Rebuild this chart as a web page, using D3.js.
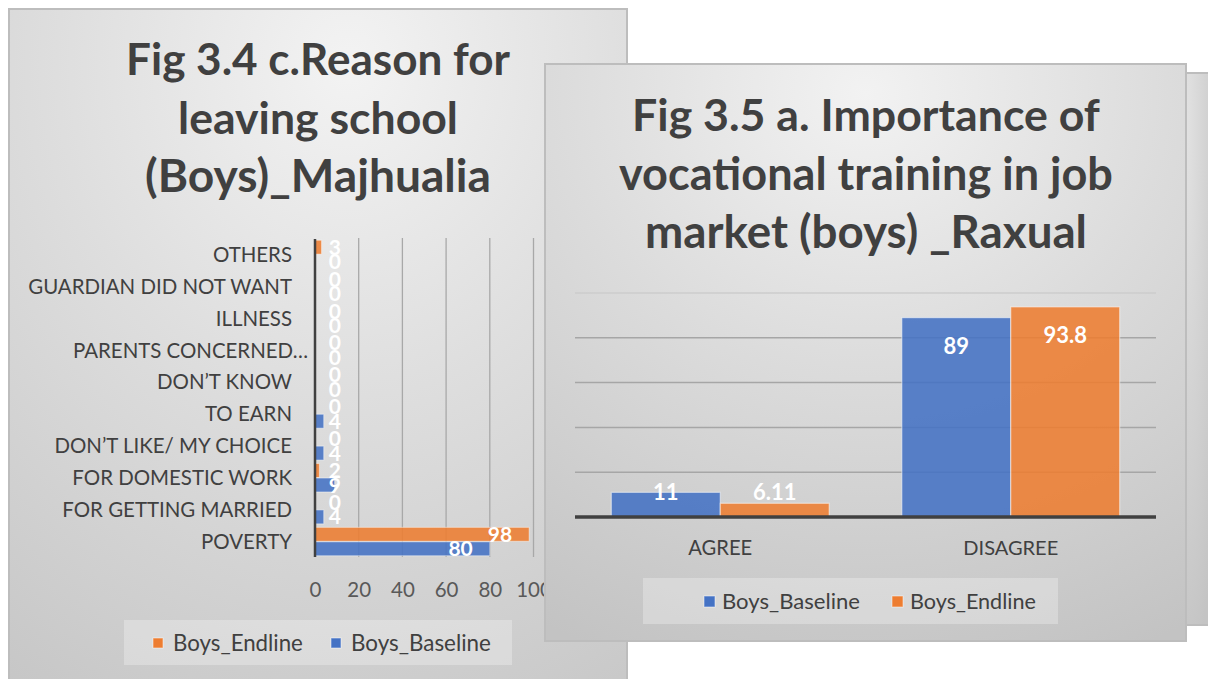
<!DOCTYPE html>
<html><head><meta charset="utf-8">
<script src="https://cdn.jsdelivr.net/npm/d3@7"></script>
<style>
html,body{margin:0;padding:0;background:#fff;}
svg{display:block;font-family:Lato,"Open Sans",sans-serif;}
</style></head>
<body>
<script>
// ---------- Data ----------
const leftTitle = ["Fig 3.4 c.Reason for", "leaving school", "(Boys)_Majhualia"];
const reasons = ["OTHERS", "GUARDIAN DID NOT WANT", "ILLNESS", "PARENTS CONCERNED…", "DON’T KNOW",
  "TO EARN", "DON’T LIKE/ MY CHOICE", "FOR DOMESTIC WORK", "FOR GETTING MARRIED", "POVERTY"];
const reasonEndline  = [3, 0, 0, 0, 0, 0, 0, 2, 0, 98];
const reasonBaseline = [0, 0, 0, 0, 0, 4, 4, 9, 4, 80];
const leftTicks = [0, 20, 40, 60, 80, 100];
const leftSeries = ["Boys_Endline", "Boys_Baseline"];

const rightTitle = ["Fig 3.5 a. Importance of", "vocational training in job", "market (boys) _Raxual"];
const answers = ["AGREE", "DISAGREE"];
const vocBaseline = [11, 89];
const vocEndline  = [6.11, 93.8];
const vocBaselineLabels = ["11", "89"];
const vocEndlineLabels  = ["6.11", "93.8"];
const rightGrid = [20, 40, 60, 80, 100];
const rightSeries = ["Boys_Baseline", "Boys_Endline"];

// ---------- Styles ----------
const BLUE = "#4472C4", ORANGE = "#ED7D31", TXT = "#404040";
const colorOf = {Boys_Baseline: BLUE, Boys_Endline: ORANGE};

const W = 1208, H = 679;
const svg = d3.select("body").append("svg").attr("width", W).attr("height", H);
const defs = svg.append("defs");

function grad(id, stops, cx, cy, r) {
  const g = defs.append("radialGradient").attr("id", id)
    .attr("gradientUnits", "objectBoundingBox")
    .attr("cx", cx).attr("cy", cy).attr("r", r);
  stops.forEach(s => g.append("stop").attr("offset", s[0]).attr("stop-color", s[1]));
}
grad("gLeft", [[0, "#f3f3f3"], [0.45, "#dedede"], [1, "#c6c6c6"]], 0.55, 0.08, 1.05);
grad("gRight", [[0, "#f2f2f2"], [0.45, "#dcdcdc"], [1, "#c3c3c3"]], 0.5, 0.05, 1.05);
grad("gThird", [[0, "#e2e2e2"], [1, "#c4c4c4"]], 0.0, 0.1, 1.0);

function fitText(sel, targetW) {
  const node = sel.node();
  const base = parseFloat(sel.attr("font-size"));
  const w = node.getComputedTextLength();
  sel.attr("font-size", base * targetW / w);
}

// ================= LEFT PANEL =================
const L = svg.append("g");
L.append("rect").attr("x", 9).attr("y", 9).attr("width", 618).attr("height", 700)
  .attr("fill", "url(#gLeft)").attr("stroke", "#bdbdbd").attr("stroke-width", 2);

const ltW = [384, 280, 346];
leftTitle.forEach((t, i) => {
  const tx = L.append("text").attr("x", 318).attr("y", 75 + i * 58.5)
    .attr("text-anchor", "middle").attr("font-size", 40).attr("font-weight", 700)
    .attr("fill", TXT).text(t);
  fitText(tx, ltW[i]);
});

const x0 = d3.scaleLinear().domain([0, 100]).range([315, 533.5]);
const yB = d3.scaleBand().domain(reasons).range([238.5, 557.5]).paddingInner(0).paddingOuter(0);
const ySub = d3.scaleBand().domain(leftSeries).range([0, yB.bandwidth()]).paddingOuter(0.12).paddingInner(0.04);

// gridlines
L.append("g").selectAll("line").data(leftTicks.slice(1)).join("line")
  .attr("x1", d => x0(d)).attr("x2", d => x0(d)).attr("y1", 238).attr("y2", 557)
  .attr("stroke", "#a8a8a8").attr("stroke-width", 1.3);

// tick labels via axis
const axL = L.append("g").attr("transform", "translate(0,582)")
  .call(d3.axisBottom(x0).tickValues(leftTicks).tickSize(0).tickPadding(0));
axL.select(".domain").remove();
axL.selectAll("text").attr("font-size", 20.5).attr("fill", "#595959")
  .attr("font-family", "Lato,'Open Sans',sans-serif").attr("dy", "0.71em");

// category labels
const catG = L.append("g");
reasons.forEach(c => {
  catG.append("text").attr("x", c === "PARENTS CONCERNED…" ? 308 : 292)
    .attr("y", yB(c) + yB.bandwidth() / 2).attr("dy", "0.36em")
    .attr("text-anchor", "end").attr("font-size", 18.5).attr("fill", TXT).text(c);
});
{
  const t = catG.selectAll("text").filter(function () { return this.textContent === "GUARDIAN DID NOT WANT"; });
  const w = t.node().getComputedTextLength();
  const fs = 18.5 * 264 / w;
  catG.selectAll("text").attr("font-size", fs);
}

const leftRows = reasons.map((c, i) => ({c, vals: [
  {s: "Boys_Endline", v: reasonEndline[i]}, {s: "Boys_Baseline", v: reasonBaseline[i]}]}));

const rowG = L.append("g").selectAll("g").data(leftRows).join("g")
  .attr("transform", d => `translate(0,${yB(d.c)})`);
rowG.selectAll("rect").data(d => d.vals).join("rect")
  .attr("x", x0(0)).attr("y", d => ySub(d.s)).attr("height", ySub.bandwidth())
  .attr("width", d => x0(d.v) - x0(0))
  .attr("fill", d => colorOf[d.s]).attr("fill-opacity", 0.88)
  .attr("stroke", "#ffffff").attr("stroke-opacity", 0.45).attr("stroke-width", d => d.v > 0 ? 1 : 0);
rowG.selectAll("text").data(d => d.vals).join("text")
  .attr("x", d => Math.max(x0(d.v) - 17, x0(0) + 26))
  .attr("y", d => ySub(d.s) + ySub.bandwidth() / 2).attr("dy", "0.36em")
  .attr("text-anchor", "end").attr("font-size", 21).attr("font-weight", 700)
  .attr("fill", "#ffffff").text(d => d.v);

// y axis line
L.append("line").attr("x1", 315).attr("x2", 315).attr("y1", 239).attr("y2", 557)
  .attr("stroke", "#404040").attr("stroke-width", 2.5);

// legend
const lgL = L.append("g");
lgL.append("rect").attr("x", 124).attr("y", 620).attr("width", 388).attr("height", 45)
  .attr("fill", "#ffffff").attr("fill-opacity", 0.28);
const lgLpos = [{s: "Boys_Endline", x: 153}, {s: "Boys_Baseline", x: 331}];
lgLpos.forEach(p => {
  lgL.append("rect").attr("x", p.x).attr("y", 638).attr("width", 10).attr("height", 10)
    .attr("fill", colorOf[p.s]).attr("stroke", "#fff").attr("stroke-opacity", 0.5);
  const t = lgL.append("text").attr("x", p.x + 20).attr("y", 643).attr("dy", "0.36em")
    .attr("font-size", 19).attr("fill", TXT).text(p.s);
  fitText(t, p.s === "Boys_Endline" ? 130 : 140);
});

// ================= THIRD (background) PANEL =================
svg.append("rect").attr("x", 1186).attr("y", 73).attr("width", 40).attr("height", 552)
  .attr("fill", "url(#gThird)").attr("stroke", "#bdbdbd").attr("stroke-width", 2);

// ================= RIGHT PANEL =================
const R = svg.append("g");
R.append("rect").attr("x", 545).attr("y", 64).attr("width", 641).attr("height", 577)
  .attr("fill", "url(#gRight)").attr("stroke", "#bdbdbd").attr("stroke-width", 2);

const rtW = [468, 494, 442];
rightTitle.forEach((t, i) => {
  const tx = R.append("text").attr("x", 866).attr("y", 131 + i * 58.5)
    .attr("text-anchor", "middle").attr("font-size", 40).attr("font-weight", 700)
    .attr("fill", TXT).text(t);
  fitText(tx, rtW[i]);
});

const xR = d3.scaleBand().domain(answers).range([575, 1156]).paddingInner(0.25).paddingOuter(0.125);
const xSub = d3.scaleBand().domain(rightSeries).range([0, xR.bandwidth()]).padding(0);
const yR = d3.scaleLinear().domain([0, 100]).range([517, 293]);

R.append("g").selectAll("line").data(rightGrid).join("line")
  .attr("x1", 575).attr("x2", 1156).attr("y1", d => yR(d)).attr("y2", d => yR(d))
  .attr("stroke", d => d === 100 ? "#cccccc" : "#a6a6a6").attr("stroke-width", 1.5);

const rightRows = answers.map((a, i) => ({a, vals: [
  {s: "Boys_Baseline", v: vocBaseline[i], lab: vocBaselineLabels[i]},
  {s: "Boys_Endline", v: vocEndline[i], lab: vocEndlineLabels[i]}]}));

const colG = R.append("g").selectAll("g").data(rightRows).join("g")
  .attr("transform", d => `translate(${xR(d.a)},0)`);
colG.selectAll("rect").data(d => d.vals).join("rect")
  .attr("x", d => xSub(d.s)).attr("width", xSub.bandwidth())
  .attr("y", d => yR(d.v)).attr("height", d => yR(0) - yR(d.v))
  .attr("fill", d => colorOf[d.s]).attr("fill-opacity", 0.88)
  .attr("stroke", "#ffffff").attr("stroke-opacity", 0.5).attr("stroke-width", 1.2);
colG.selectAll("text").data(d => d.vals).join("text")
  .attr("x", d => xSub(d.s) + xSub.bandwidth() / 2)
  .attr("y", d => Math.min(yR(d.v) + 28, yR(0) - 25)).attr("dy", "0.36em")
  .attr("text-anchor", "middle").attr("font-size", 22).attr("font-weight", 700)
  .attr("fill", "#ffffff").text(d => d.lab);

// x axis
const axR = R.append("g").attr("transform", "translate(0,517)")
  .call(d3.axisBottom(xR).tickSize(0).tickPadding(31));
axR.select(".domain").attr("stroke", "#404040").attr("stroke-width", 3.5)
  .attr("d", "M575,0H1156");
axR.selectAll("text").attr("font-size", 19).attr("fill", TXT)
  .attr("font-family", "Lato,'Open Sans',sans-serif").attr("dy", "0.71em")
  .attr("y", 24);
axR.selectAll("text").each(function () {
  fitText(d3.select(this), this.textContent === "AGREE" ? 64 : 95);
});

// legend
const lgR = R.append("g");
lgR.append("rect").attr("x", 643).attr("y", 578).attr("width", 415).attr("height", 46)
  .attr("fill", "#ffffff").attr("fill-opacity", 0.28);
const lgRpos = [{s: "Boys_Baseline", x: 704}, {s: "Boys_Endline", x: 892}];
lgRpos.forEach(p => {
  lgR.append("rect").attr("x", p.x).attr("y", 596).attr("width", 11).attr("height", 11)
    .attr("fill", colorOf[p.s]).attr("stroke", "#fff").attr("stroke-opacity", 0.5);
  const t = lgR.append("text").attr("x", p.x + 18).attr("y", 601).attr("dy", "0.36em")
    .attr("font-size", 19).attr("fill", TXT).text(p.s);
  fitText(t, p.s === "Boys_Endline" ? 126 : 138);
});
</script>
</body></html>
